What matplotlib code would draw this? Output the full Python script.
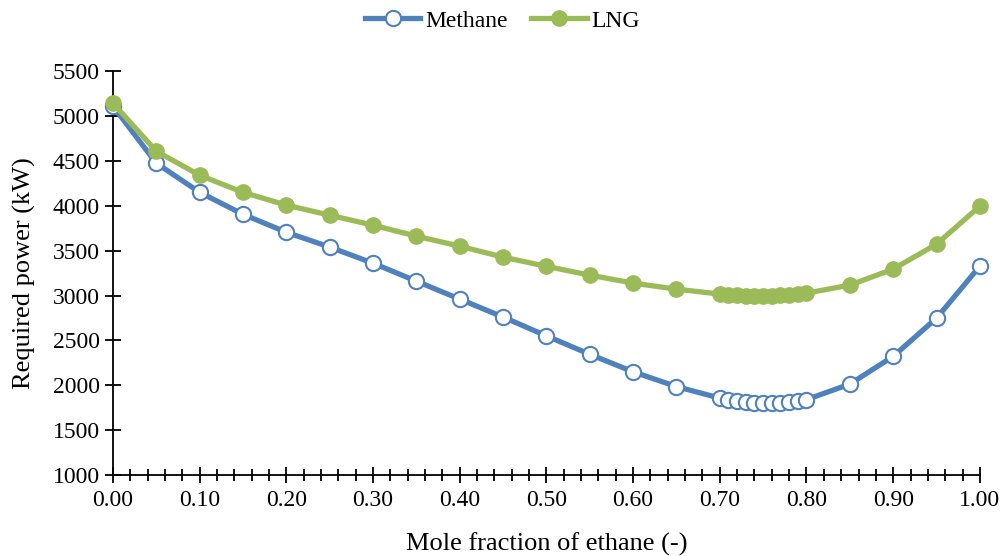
import matplotlib.pyplot as plt
import numpy as np
from matplotlib.ticker import MultipleLocator, FormatStrFormatter

plt.rcParams['font.family'] = ['Liberation Serif', 'DejaVu Serif']

x = [0.00, 0.05, 0.10, 0.15, 0.20, 0.25, 0.30, 0.35, 0.40, 0.45, 0.50, 0.55, 0.60, 0.65,
     0.70, 0.71, 0.72, 0.73, 0.74, 0.75, 0.76, 0.77, 0.78, 0.79, 0.80,
     0.85, 0.90, 0.95, 1.00]

methane = [5110, 4475, 4150, 3905, 3705, 3540, 3360, 3160, 2960, 2760, 2550, 2345, 2150, 1985,
           1857, 1835, 1822, 1812, 1806, 1802, 1802, 1806, 1812, 1822, 1840,
           2013, 2322, 2748, 3327]

lng = [5143, 4608, 4340, 4150, 4007, 3895, 3784, 3661, 3550, 3428, 3325, 3227, 3138, 3071,
       3016, 3008, 3003, 3000, 2998, 2997, 2998, 3001, 3006, 3014, 3026,
       3116, 3294, 3572, 3996]

blue = '#4F81BD'
green = '#9BBB59'

fig = plt.figure(figsize=(10.05, 5.56), dpi=100)
ax = fig.add_axes([0.1124, 0.1457, 0.8626, 0.7263])

ax.plot(x, methane, '-o', color=blue, lw=3.8, ms=11, mfc='white', mec=blue, mew=1.5,
        label='Methane', zorder=3, clip_on=False)
ax.plot(x, lng, '-o', color=green, lw=3.8, ms=11, mfc=green, mec=green,
        label='LNG', zorder=3, clip_on=False)

ax.set_xlim(0, 1)
ax.set_ylim(1000, 5500)
ax.xaxis.set_major_locator(MultipleLocator(0.1))
ax.xaxis.set_minor_locator(MultipleLocator(0.02))
ax.xaxis.set_major_formatter(FormatStrFormatter('%.2f'))
ax.yaxis.set_major_locator(MultipleLocator(500))

for s in ['top', 'right']:
    ax.spines[s].set_visible(False)
for s in ['left', 'bottom']:
    ax.spines[s].set_linewidth(1.3)

ax.tick_params(which='major', direction='inout', length=11, width=1.3, labelsize=17)
ax.tick_params(which='minor', direction='inout', length=8, width=1.3)
ax.tick_params(axis='x', pad=5)
ax.tick_params(axis='y', pad=4)

ax.set_xlabel('Mole fraction of ethane (-)', fontsize=19, labelpad=16)
ax.set_ylabel('Required power (kW)', fontsize=19, labelpad=12)

fig.legend(loc='upper center', bbox_to_anchor=(0.5, 1.02), ncol=2, frameon=False,
           fontsize=17, handlelength=2.35, columnspacing=1.0, handletextpad=0.2)

fig.savefig('out.png', dpi=100)
